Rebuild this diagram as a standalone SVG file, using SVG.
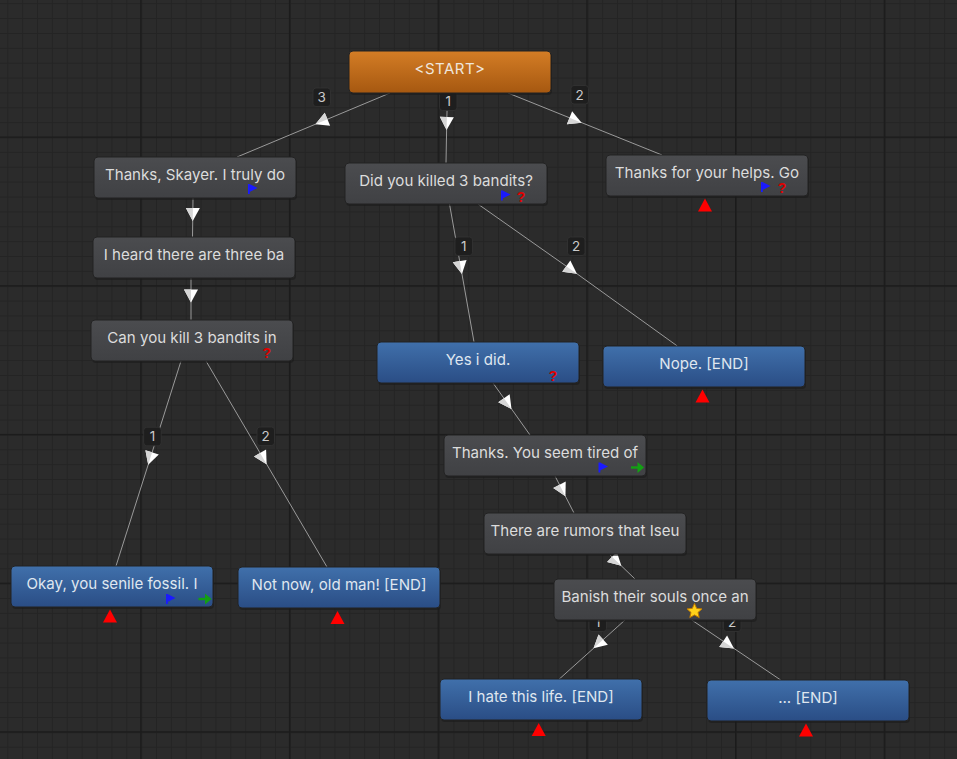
<svg xmlns="http://www.w3.org/2000/svg" xmlns:xlink="http://www.w3.org/1999/xlink" width="957" height="759" viewBox="0 0 957 759">
<defs>
<style>
.bg{fill:#2a2a2a}
.node{stroke:#232323;stroke-width:1}
.gray{fill:url(#gGray)}
.blue{fill:url(#gBlue)}
.orange{fill:url(#gOrange)}
.t{font-family:Inter,"Noto Sans","Liberation Sans",sans-serif;font-size:15.1px;fill:#dcdcdc;text-anchor:middle}
.tb{fill:#dfe6ef}
.ts{fill:#efe6dc;font-size:15px;letter-spacing:0.5px}
.conn{fill:none;stroke:#9a9a9a;stroke-width:1;marker-mid:url(#arr)}
.lbl rect{fill:#1e1e1e;stroke:#333;stroke-width:0.8}
.lbl text{font-family:Inter,"Noto Sans","Liberation Sans",sans-serif;font-size:13.5px;fill:#cacaca;text-anchor:middle}
.q{font-family:"Liberation Sans",Arial,sans-serif;font-weight:bold;font-size:14px;fill:#e00000;text-anchor:middle}
.shadow{fill:#1a1a1a;opacity:0.6}
</style>
<linearGradient id="gGray" x1="0" y1="0" x2="0" y2="1">
<stop offset="0" stop-color="#4b4c4f"/><stop offset="1" stop-color="#404144"/>
</linearGradient>
<linearGradient id="gBlue" x1="0" y1="0" x2="0" y2="1">
<stop offset="0" stop-color="#4070ab"/><stop offset="1" stop-color="#2a4d85"/>
</linearGradient>
<linearGradient id="gOrange" x1="0" y1="0" x2="0" y2="1">
<stop offset="0" stop-color="#d47d25"/><stop offset="1" stop-color="#a65810"/>
</linearGradient>
<pattern id="minor" patternUnits="userSpaceOnUse" x="7.3" y="3.2" width="14.87" height="14.87">
<rect width="14.87" height="14.87" fill="#2b2b2b"/>
<rect x="0" y="0" width="1" height="14.87" fill="#242424"/>
<rect x="0" y="0" width="14.87" height="1" fill="#242424"/>
</pattern>
<pattern id="major" patternUnits="userSpaceOnUse" x="140.2" y="136.5" width="148.7" height="148.7">
<rect x="0" y="0" width="1.4" height="148.7" fill="#1b1b1b"/>
<rect x="0" y="0" width="148.7" height="1.4" fill="#1b1b1b"/>
</pattern>
<marker id="arr" viewBox="-8 -8 16 16" markerWidth="16" markerHeight="16" refX="0" refY="0" orient="auto" markerUnits="userSpaceOnUse">
<polygon points="6,0 -7,-7 -7,7" fill="#ffffff"/>
<polygon points="6,0 -7,0 -7,7" fill="#d6d6d6"/>
</marker>
<g id="flag"><rect x="0" y="0" width="1.8" height="10" fill="#1a1aff"/><polygon points="1.5,0 9.5,4 1.5,8" fill="#1a1aff"/></g>
<g id="garrow"><rect x="0" y="4.3" width="8" height="2.4" fill="#13a013"/><polygon points="6.5,0 13,5.5 6.5,11" fill="#13a013"/></g>
<polygon id="tri" points="0,0 7,13 -7,13" fill="#ff0000"/>
</defs>

<rect class="bg" width="957" height="759"/>
<rect width="957" height="759" fill="url(#minor)"/>
<rect width="957" height="759" fill="url(#major)"/>

<g id="connectors">
<path class="conn" d="M390,93 L321,121.9 L237,157"/>
<path class="conn" d="M447.5,93 L446.7,124 L446,163"/>
<path class="conn" d="M508,93 L576,120.4 L662,155"/>
<path class="conn" d="M193,198 L192.8,215 L192.5,237"/>
<path class="conn" d="M191,278 L191,296.5 L191,320"/>
<path class="conn" d="M449.5,204 L460.9,268 L474,342"/>
<path class="conn" d="M478.3,204.3 L572,270.2 L677.3,346"/>
<path class="conn" d="M493,383 L508,404 L530,435"/>
<path class="conn" d="M555,476 L562.7,491 L574,513"/>
<path class="conn" d="M610,555 L617,561.7 L635,579"/>
<path class="conn" d="M625,620 L598,644.3 L559,679.3"/>
<path class="conn" d="M691.7,620 L729,645.1 L780.7,680"/>
<path class="conn" d="M181,361 L150,459 L116,566"/>
<path class="conn" d="M206,361 L263.6,459 L327,567"/>
<g class="lbl"><rect x="313" y="88" width="17.5" height="18.5" rx="3"/><text x="321.7" y="102">3</text></g>
<g class="lbl"><rect x="439.5" y="92" width="17.5" height="18.5" rx="3"/><text x="448.2" y="106">1</text></g>
<g class="lbl"><rect x="571" y="85.5" width="17.5" height="18.5" rx="3"/><text x="579.7" y="99.5">2</text></g>
<g class="lbl"><rect x="455" y="237" width="17.5" height="18.5" rx="3"/><text x="463.7" y="251">1</text></g>
<g class="lbl"><rect x="567.5" y="237" width="17.5" height="18.5" rx="3"/><text x="576.2" y="251">2</text></g>
<g class="lbl"><rect x="143.7" y="427.3" width="17.5" height="18.5" rx="3"/><text x="152.4" y="441.3">1</text></g>
<g class="lbl"><rect x="257" y="427" width="17.5" height="18.5" rx="3"/><text x="265.7" y="441">2</text></g>
<g class="lbl"><rect x="589" y="613" width="17.5" height="18.5" rx="3"/><text x="597.7" y="627">1</text></g>
<g class="lbl"><rect x="723.5" y="613" width="17.5" height="18.5" rx="3"/><text x="732.2" y="627">2</text></g>
</g>

<g id="node-start">
<rect class="shadow" x="350" y="53" width="202" height="42" rx="4"/>
<rect class="node orange" x="349" y="51" width="202" height="42" rx="4"/>
<text class="t ts" x="450" y="74">&lt;START&gt;</text>
</g>

<g id="node-thanks-skayer">
<rect class="shadow" x="95" y="159" width="202" height="41" rx="4"/>
<rect class="node gray" x="94" y="157" width="202" height="41" rx="4"/>
<text class="t" x="195" y="180">Thanks, Skayer. I truly do</text>
<use href="#flag" x="248" y="184"/>
</g>

<g id="node-heard">
<rect class="shadow" x="94" y="239" width="202" height="41" rx="4"/>
<rect class="node gray" x="93" y="237" width="202" height="41" rx="4"/>
<text class="t" x="194" y="260">I heard there are three ba</text>
</g>

<g id="node-can-you-kill">
<rect class="shadow" x="92" y="322" width="202" height="41" rx="4"/>
<rect class="node gray" x="91" y="320" width="202" height="41" rx="4"/>
<text class="t" x="192" y="343">Can you kill 3 bandits in</text>
<text class="q" x="266.7" y="358">?</text>
</g>

<g id="node-did-you-kill">
<rect class="shadow" x="346" y="165" width="202" height="41" rx="4"/>
<rect class="node gray" x="345" y="163" width="202" height="41" rx="4"/>
<text class="t" x="446" y="186">Did you killed 3 bandits?</text>
<use href="#flag" x="501" y="190.5"/>
<text class="q" x="521" y="201.5">?</text>
</g>

<g id="node-thanks-helps">
<rect class="shadow" x="607" y="157" width="202" height="41" rx="4"/>
<rect class="node gray" x="606" y="155" width="202" height="41" rx="4"/>
<text class="t" x="707" y="178">Thanks for your helps. Go</text>
<use href="#flag" x="761" y="182"/>
<text class="q" x="782" y="193">?</text>
<use href="#tri" x="705" y="198.5"/>
</g>

<g id="node-yes">
<rect class="shadow" x="378" y="344" width="202" height="41" rx="4"/>
<rect class="node blue" x="377" y="342" width="202" height="41" rx="4"/>
<text class="t tb" x="478" y="365">Yes i did.</text>
<text class="q" x="553" y="380.5">?</text>
</g>

<g id="node-nope">
<rect class="shadow" x="604" y="348" width="202" height="41" rx="4"/>
<rect class="node blue" x="603" y="346" width="202" height="41" rx="4"/>
<text class="t tb" x="704" y="369">Nope. [END]</text>
<use href="#tri" x="702.5" y="389.5"/>
</g>

<g id="node-okay">
<rect class="shadow" x="12" y="568" width="202" height="41" rx="4"/>
<rect class="node blue" x="11" y="566" width="202" height="41" rx="4"/>
<text class="t tb" x="112" y="589">Okay, you senile fossil. I</text>
<use href="#flag" x="166" y="594"/>
<use href="#garrow" x="198.5" y="593.5"/>
<use href="#tri" x="110" y="609.5"/>
</g>

<g id="node-not-now">
<rect class="shadow" x="239" y="569" width="202" height="41" rx="4"/>
<rect class="node blue" x="238" y="567" width="202" height="41" rx="4"/>
<text class="t tb" x="339" y="590">Not now, old man! [END]</text>
<use href="#tri" x="337.5" y="611"/>
</g>

<g id="node-thanks-tired">
<rect class="shadow" x="445" y="437" width="202" height="41" rx="4"/>
<rect class="node gray" x="444" y="435" width="202" height="41" rx="4"/>
<text class="t" x="545" y="458">Thanks. You seem tired of</text>
<use href="#flag" x="598.5" y="462.5"/>
<use href="#garrow" x="631" y="462"/>
</g>

<g id="node-rumors">
<rect class="shadow" x="485" y="515" width="202" height="41" rx="4"/>
<rect class="node gray" x="484" y="513" width="202" height="41" rx="4"/>
<text class="t" x="585" y="536">There are rumors that Iseu</text>
</g>

<g id="node-banish">
<rect class="shadow" x="555" y="581" width="202" height="41" rx="4"/>
<rect class="node gray" x="554" y="579" width="202" height="41" rx="4"/>
<text class="t" x="655" y="602">Banish their souls once an</text>
<polygon points="694.5,603.5 696.7,608.4 702,608.9 698,612.4 699.2,617.6 694.5,614.9 689.8,617.6 691,612.4 687,608.9 692.3,608.4" fill="#ffd21a" stroke="#c07a00" stroke-width="1"/>
</g>

<g id="node-hate">
<rect class="shadow" x="441" y="681" width="202" height="41" rx="4"/>
<rect class="node blue" x="440" y="679" width="202" height="41" rx="4"/>
<text class="t tb" x="541" y="702">I hate this life. [END]</text>
<use href="#tri" x="538.7" y="723"/>
</g>

<g id="node-dots">
<rect class="shadow" x="708" y="682" width="202" height="41" rx="4"/>
<rect class="node blue" x="707" y="680" width="202" height="41" rx="4"/>
<text class="t tb" x="808" y="703">... [END]</text>
<use href="#tri" x="806" y="723.5"/>
</g>
</svg>
